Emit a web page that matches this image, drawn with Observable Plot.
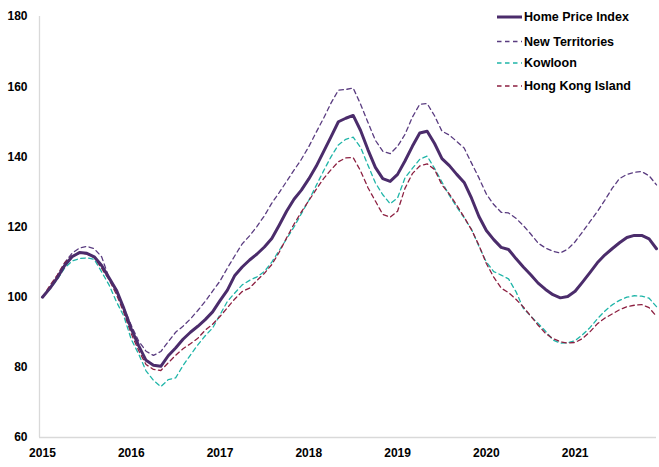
<!DOCTYPE html>
<html>
<head>
<meta charset="utf-8">
<script src="https://cdn.jsdelivr.net/npm/d3@7"></script>
<script src="https://cdn.jsdelivr.net/npm/@observablehq/plot@0.6"></script>
<style>
  html, body { margin: 0; padding: 0; background: #fff; }
  #wrap { position: relative; width: 659px; height: 467px; font-family: "Liberation Sans", Arial, sans-serif; }
  #legend { position: absolute; left: 0; top: 0; pointer-events: none; }
</style>
</head>
<body>
<div id="wrap"></div>
<script>
// Year labels on the time axis (one per January)
const years = ["2015", "2016", "2017", "2018", "2019", "2020", "2021"];

// Series names and styling
const seriesNames = ["Home Price Index", "New Territories", "Kowloon", "Hong Kong Island"];
const seriesColors = ["#4b2c6b", "#5a3c80", "#1fb5a8", "#8c1f40"];

// Monthly index values, Jan 2015 – Dec 2021 (Jan 2015 = 100)
const homePriceIndex = [
  100, 102.5, 105.5, 109, 111.5, 112.7, 112.5, 111.5, 109, 105.5, 102, 96.8,
  91, 86.2, 82, 80.6, 80.3, 83.3, 85.5, 88, 90, 91.7, 93.6, 95.8,
  99, 102, 106.2, 108.6, 110.6, 112.3, 114.3, 116.7, 120.5, 124.5, 127.9, 130.5,
  133.7, 137.3, 141.5, 145.7, 150, 151, 151.8, 147.5, 142, 137, 133.8, 133,
  135, 138.8, 143, 146.8, 147.3, 143.8, 139.5, 137.5, 135, 132.7, 128.2, 123,
  119, 116.4, 114.2, 113.6, 111, 108.6, 106.4, 104, 102.2, 100.7, 99.8, 100.2,
  101.7, 104.3, 107, 109.8, 112, 113.8, 115.5, 117, 117.6, 117.6, 116.6, 113.8
];
const newTerritories = [
  100, 102.8, 106, 109.8, 112.5, 114, 114.5, 113.8, 111.5, 105.5, 101.5, 97,
  92, 87.5, 84.6, 83.4, 84.5, 87.3, 90, 91.7, 93.8, 96.2, 98.8, 101.7,
  104.6, 108.3, 111.8, 115.2, 117.5, 120.2, 123.2, 126.8, 129.8, 133, 136.2, 139.3,
  142.9, 147, 151, 155.3, 159, 159.2, 159.6, 155, 149.8, 144.7, 141.6, 140.9,
  143, 146.4, 151.3, 155, 155.2, 151.7, 147.3, 146.2, 144.4, 142.5, 138.2, 134,
  129.4, 126.4, 124.2, 124, 122.5, 120.4, 118, 115.4, 114, 113.1, 112.6, 113.7,
  115.8, 118.6, 121.5, 124.4, 127.6, 131, 133.8, 135, 135.6, 135.8, 134.6, 132
];
const kowloon = [
  100, 102.3, 105, 108.3, 110.3, 111, 111.2, 110.8, 107.2, 103.5, 98.7, 94.6,
  88, 83.8, 79, 76.3, 74.5, 76.5, 77, 80.5, 83.5, 86.4, 89, 91.2,
  95, 98.8, 101.2, 103.5, 104.8, 105.8, 107.3, 110, 113.3, 116.6, 120, 123.8,
  127.6, 131.8, 136, 140, 143.4, 145, 145.6, 142.7, 137.6, 132.6, 129.2, 126.6,
  128.3, 134, 136.7, 139.3, 140.2, 136.7, 132.8, 129, 125.7, 122.6, 119.3, 114.5,
  110, 107.3, 106.3, 105.2, 101.6, 96.8, 94.6, 92.5, 90.3, 87.8, 86.9, 87,
  87.6, 89.3, 91.3, 93.8, 96, 97.8, 99.1, 100, 100.4, 100.3, 99.7, 97.3
];
const hongKongIsland = [
  100, 103.3, 106.3, 109.8, 111.8, 112.6, 112.3, 111.3, 108.2, 105, 100.8, 95.6,
  89.6, 84.8, 80.8, 79.4, 79.1, 81.3, 83.4, 85.3, 86.7, 88.3, 90.6, 92.3,
  94.5, 97, 99.5, 101.6, 102.6, 104.8, 106.8, 109.3, 112.8, 116.9, 120.8, 124.3,
  127.5, 130.7, 133.8, 136.3, 138.6, 139.7, 139.8, 136, 131.2, 127.4, 123.6, 122.8,
  124.5, 131, 135.2, 137.4, 138, 136.4, 132, 129.4, 126.2, 122.8, 119.2, 114.8,
  109.6, 105.7, 102.6, 101.3, 99.4, 97.2, 94.6, 92, 89.7, 88.2, 87.3, 86.9,
  87.1, 88.2, 90.1, 92.4, 94, 95.2, 96.4, 97.3, 97.7, 97.9, 97, 94.5
];

const yTicks = [60, 80, 100, 120, 140, 160, 180];

// Long-format table: one row per month per series (month = months since Jan 2015)
const seriesValues = [homePriceIndex, newTerritories, kowloon, hongKongIsland];
const rows = seriesValues.flatMap((vals, s) =>
  vals.map((v, month) => ({series: seriesNames[s], month, value: v}))
);

const axisGray = "#d9d9d9";
const dash = "4.5,3.5";

const chart = Plot.plot({
  width: 659,
  height: 467,
  marginLeft: 39,
  marginRight: 3,
  marginTop: 16,
  marginBottom: 30,
  style: {fontFamily: "'Liberation Sans', Arial, sans-serif", fontSize: "12px", fontWeight: "bold", color: "#000", background: "#fff"},
  x: {domain: [-0.4, homePriceIndex.length - 1], axis: null},
  y: {domain: [60, 180], axis: null},
  marks: [
    Plot.ruleX([-0.4], {stroke: axisGray, strokeWidth: 1.3}),
    Plot.ruleY([60], {stroke: axisGray, strokeWidth: 1.3}),
    Plot.axisY(yTicks, {tickSize: 0, tickPadding: 12, fontWeight: "bold", fontSize: 12, label: null}),
    Plot.axisX(years.map((_, i) => i * 12), {
      tickSize: 0, tickPadding: 11, fontWeight: "bold", fontSize: 12, label: null,
      tickFormat: (d) => years[d / 12]
    }),
    // Regional sub-indices (dashed)
    Plot.line(rows.filter((d) => d.series === "New Territories"),
      {x: "month", y: "value", stroke: seriesColors[1], strokeWidth: 1.3, strokeDasharray: dash}),
    Plot.line(rows.filter((d) => d.series === "Kowloon"),
      {x: "month", y: "value", stroke: seriesColors[2], strokeWidth: 1.3, strokeDasharray: dash}),
    Plot.line(rows.filter((d) => d.series === "Hong Kong Island"),
      {x: "month", y: "value", stroke: seriesColors[3], strokeWidth: 1.3, strokeDasharray: dash}),
    // Overall index (solid, thick)
    Plot.line(rows.filter((d) => d.series === "Home Price Index"),
      {x: "month", y: "value", stroke: seriesColors[0], strokeWidth: 3, strokeLinejoin: "round"})
  ]
});

const wrap = document.getElementById("wrap");
wrap.appendChild(chart);

// Legend in the top-right corner
const legendRows = [17, 41.5, 63, 86];
const legend = d3.select(wrap).append("svg")
  .attr("id", "legend")
  .attr("width", 659)
  .attr("height", 110);
seriesNames.forEach((name, i) => {
  const g = legend.append("g").attr("transform", `translate(497,${legendRows[i]})`);
  g.append("line")
    .attr("x1", 0).attr("x2", 25).attr("y1", 0).attr("y2", 0)
    .attr("stroke", seriesColors[i])
    .attr("stroke-width", i === 0 ? 3 : 1.3)
    .attr("stroke-dasharray", i === 0 ? null : dash);
  g.append("text")
    .attr("x", 27).attr("y", 0).attr("dy", "0.35em")
    .attr("font-family", "'Liberation Sans', Arial, sans-serif")
    .attr("font-size", 12.5)
    .attr("font-weight", "bold")
    .attr("fill", "#000")
    .text(name);
});
</script>
</body>
</html>
